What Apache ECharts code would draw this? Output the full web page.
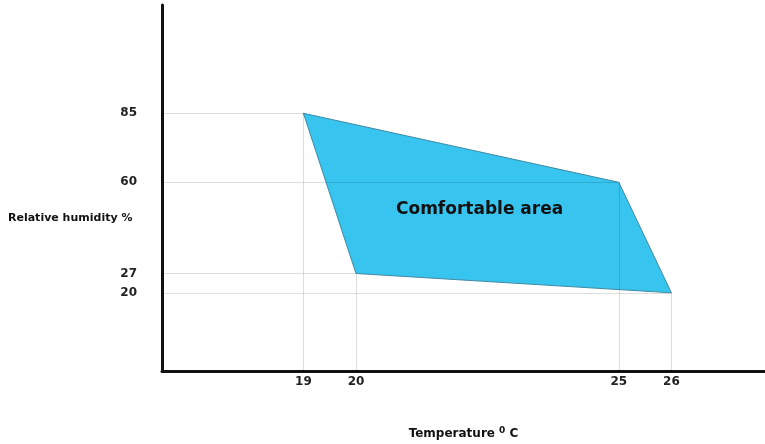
<!DOCTYPE html>
<html>
<head>
<meta charset="utf-8">
<script src="https://cdn.jsdelivr.net/npm/echarts@6/dist/echarts.min.js"></script>
<style>
  html,body{margin:0;padding:0;background:#fff;}
  #chart{width:765px;height:444px;}
</style>
</head>
<body>
<div id="chart"></div>
<script>
// corners of the comfort zone, clockwise from top left
var temps = [19, 25, 26, 20];
var humid = [85, 60, 20, 27];
var xTicks = [19, 20, 25, 26];
var yTicks = [85, 60, 27, 20];

// axis span chosen so the corners land near where the sketch puts them
var xMin = 16.31, xMax = 27.78;
var yMin = -8.3, yMax = 124.2;

var font = 'DejaVu Sans';

var dropLines = [];
for (var i = 0; i < temps.length; i++) {
  dropLines.push([{coord: [xMin, humid[i]]}, {coord: [temps[i], humid[i]]}]);
  dropLines.push([{coord: [temps[i], humid[i]]}, {coord: [temps[i], yMin]}]);
}

var myChart = echarts.init(document.getElementById('chart'));
var option = {
  animation: false,
  grid: {left: 162, right: 0, top: 5, bottom: 73, outerBoundsMode: 'none', containLabel: false},
  xAxis: {
    type: 'value',
    min: xMin,
    max: xMax,
    splitLine: {show: false},
    axisTick: {show: false},
    axisLine: {onZero: false, lineStyle: {color: '#111', width: 3}},
    axisLabel: {
      customValues: xTicks,
      margin: 5,
      color: '#222',
      fontFamily: font,
      fontWeight: 'bold',
      fontSize: 12
    },
    name: 'Temperature {sup|0} C',
    nameLocation: 'middle',
    nameGap: 55,
    nameTextStyle: {
      color: '#111',
      fontFamily: font,
      fontWeight: 'bold',
      fontSize: 12,
      rich: {sup: {fontSize: 9, verticalAlign: 'top', padding: [0, 0, 6, 0], fontFamily: font}}
    }
  },
  yAxis: {
    type: 'value',
    min: yMin,
    max: yMax,
    splitLine: {show: false},
    axisTick: {show: false},
    axisLine: {onZero: false, lineStyle: {color: '#111', width: 3}},
    axisLabel: {
      customValues: yTicks,
      margin: 25,
      color: '#222',
      fontFamily: font,
      fontWeight: 'bold',
      fontSize: 12
    }
  },
  graphic: [
    {
      type: 'text',
      left: 8,
      top: 213,
      style: {text: 'Relative humidity %', fill: '#111', font: 'bold 11px "DejaVu Sans"'}
    },
    {
      type: 'text',
      left: 396,
      top: 201,
      style: {text: 'Comfortable area', fill: '#111', font: 'bold 17px "DejaVu Sans"'},
      z: 10
    }
  ],
  series: [
    {
      type: 'custom',
      data: [0],
      z: 2,
      renderItem: function (params, api) {
        var pts = [];
        for (var k = 0; k < temps.length; k++) {
          pts.push(api.coord([temps[k], humid[k]]));
        }
        return {
          type: 'polygon',
          shape: {points: pts},
          style: {fill: '#37c4ef', stroke: '#3f8aa3', lineWidth: 1}
        };
      }
    },
    {
      type: 'line',
      data: [],
      z: 3,
      markLine: {
        silent: true,
        symbol: 'none',
        label: {show: false},
        lineStyle: {color: 'rgba(0,0,0,0.13)', width: 1, type: 'solid'},
        data: dropLines
      }
    }
  ]
};
myChart.setOption(option);
window.addEventListener('resize', function () { myChart.resize(); });
</script>
</body>
</html>
